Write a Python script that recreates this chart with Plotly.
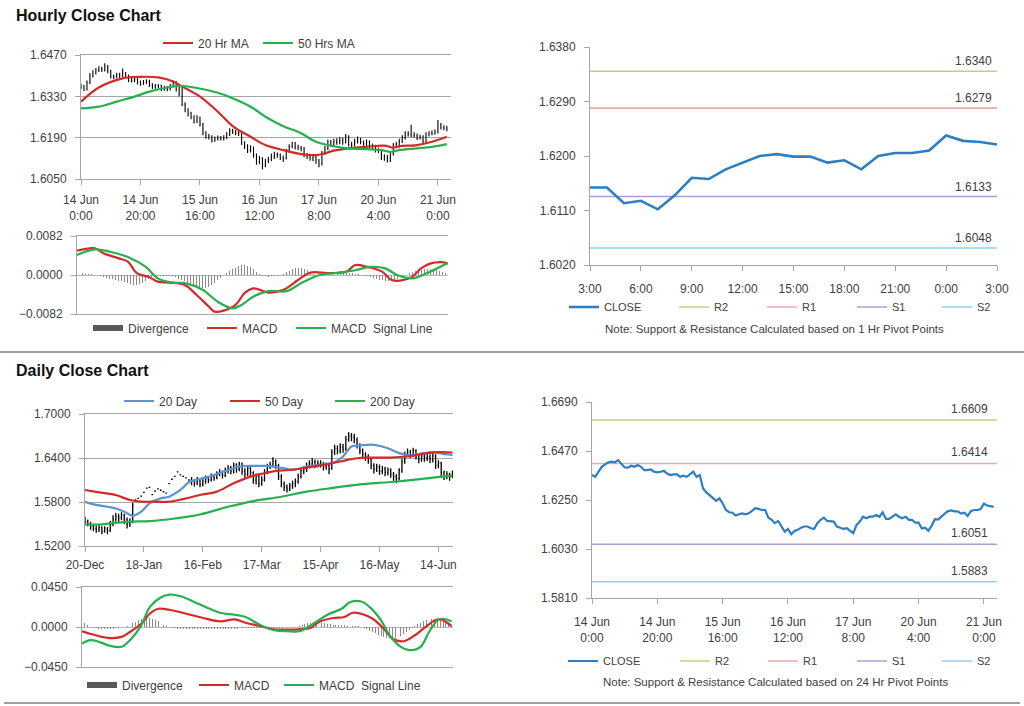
import plotly.graph_objects as go

W, H = 1024, 706
FONT = "Liberation Sans, Arial, sans-serif"
TXT = "#404040"
GRID = "#a6a6a6"

# ---------------- Hourly data (14 Jun 0:00 .. 21 Jun 3:00) ----------------
H_TICKS = [0, 20, 40, 60, 80, 100, 120]
H_TICKTEXT = ["14 Jun<br>0:00", "14 Jun<br>20:00", "15 Jun<br>16:00", "16 Jun<br>12:00",
              "17 Jun<br>8:00", "20 Jun<br>4:00", "21 Jun<br>0:00"]
H_OPEN0 = 1.6365
H_CLOSE = [1.6362, 1.6354, 1.6377, 1.6399, 1.6410, 1.6419, 1.6422, 1.6419, 1.6429, 1.6414,
           1.6396, 1.6395, 1.6404, 1.6399, 1.6407, 1.6399, 1.6384, 1.6384, 1.6387, 1.6377,
           1.6374, 1.6377, 1.6381, 1.6369, 1.6362, 1.6365, 1.6365, 1.6354, 1.6359, 1.6354,
           1.6365, 1.6377, 1.6354, 1.6362, 1.6302, 1.6284, 1.6272, 1.6260, 1.6246, 1.6257,
           1.6235, 1.6205, 1.6195, 1.6193, 1.6180, 1.6186, 1.6190, 1.6186, 1.6190, 1.6201,
           1.6213, 1.6210, 1.6205, 1.6205, 1.6171, 1.6161, 1.6146, 1.6156, 1.6131, 1.6108,
           1.6120, 1.6096, 1.6111, 1.6116, 1.6126, 1.6131, 1.6131, 1.6123, 1.6120, 1.6146,
           1.6161, 1.6171, 1.6156, 1.6156, 1.6153, 1.6131, 1.6126, 1.6120, 1.6123, 1.6111,
           1.6101, 1.6138, 1.6153, 1.6175, 1.6168, 1.6175, 1.6175, 1.6183, 1.6175, 1.6195,
           1.6165, 1.6165, 1.6175, 1.6186, 1.6175, 1.6168, 1.6175, 1.6161, 1.6161, 1.6148,
           1.6148, 1.6122, 1.6126, 1.6112, 1.6135, 1.6164, 1.6162, 1.6178, 1.6189, 1.6200,
           1.6203, 1.6199, 1.6199, 1.6189, 1.6193, 1.6178, 1.6200, 1.6205, 1.6205, 1.6209,
           1.6234, 1.6225, 1.6223, 1.6219]
H_HIGH = [1.6372, 1.6368, 1.6384, 1.6408, 1.6418, 1.6426, 1.6432, 1.6430, 1.6442, 1.6436,
          1.6420, 1.6404, 1.6410, 1.6410, 1.6424, 1.6412, 1.6404, 1.6392, 1.6395, 1.6392,
          1.6384, 1.6385, 1.6388, 1.6386, 1.6374, 1.6372, 1.6372, 1.6370, 1.6366, 1.6365,
          1.6372, 1.6384, 1.6382, 1.6372, 1.6366, 1.6310, 1.6290, 1.6278, 1.6266, 1.6266,
          1.6262, 1.6240, 1.6212, 1.6202, 1.6198, 1.6194, 1.6197, 1.6196, 1.6198, 1.6208,
          1.6222, 1.6220, 1.6216, 1.6214, 1.6210, 1.6178, 1.6168, 1.6164, 1.6160, 1.6136,
          1.6128, 1.6124, 1.6118, 1.6125, 1.6136, 1.6142, 1.6140, 1.6136, 1.6130, 1.6152,
          1.6168, 1.6176, 1.6175, 1.6166, 1.6162, 1.6158, 1.6138, 1.6132, 1.6130, 1.6128,
          1.6118, 1.6145, 1.6162, 1.6184, 1.6182, 1.6186, 1.6188, 1.6192, 1.6190, 1.6202,
          1.6198, 1.6176, 1.6186, 1.6194, 1.6190, 1.6180, 1.6184, 1.6180, 1.6170, 1.6166,
          1.6156, 1.6152, 1.6134, 1.6132, 1.6142, 1.6172, 1.6176, 1.6186, 1.6198, 1.6212,
          1.6212, 1.6234, 1.6208, 1.6204, 1.6200, 1.6198, 1.6208, 1.6212, 1.6214, 1.6218,
          1.6250, 1.6240, 1.6232, 1.6230]
H_LOW = [1.6355, 1.6348, 1.6350, 1.6372, 1.6394, 1.6404, 1.6412, 1.6412, 1.6414, 1.6408,
         1.6390, 1.6388, 1.6390, 1.6392, 1.6395, 1.6392, 1.6378, 1.6377, 1.6378, 1.6370,
         1.6366, 1.6368, 1.6372, 1.6362, 1.6355, 1.6356, 1.6358, 1.6348, 1.6349, 1.6347,
         1.6350, 1.6360, 1.6346, 1.6330, 1.6296, 1.6276, 1.6262, 1.6252, 1.6238, 1.6240,
         1.6228, 1.6198, 1.6186, 1.6184, 1.6174, 1.6176, 1.6180, 1.6180, 1.6180, 1.6185,
         1.6196, 1.6202, 1.6198, 1.6196, 1.6165, 1.6152, 1.6138, 1.6140, 1.6122, 1.6098,
         1.6100, 1.6082, 1.6090, 1.6104, 1.6110, 1.6118, 1.6122, 1.6114, 1.6108, 1.6116,
         1.6140, 1.6154, 1.6150, 1.6148, 1.6144, 1.6124, 1.6118, 1.6112, 1.6110, 1.6102,
         1.6090, 1.6096, 1.6132, 1.6148, 1.6160, 1.6162, 1.6166, 1.6168, 1.6166, 1.6170,
         1.6160, 1.6156, 1.6160, 1.6170, 1.6168, 1.6160, 1.6162, 1.6154, 1.6152, 1.6140,
         1.6138, 1.6114, 1.6112, 1.6106, 1.6108, 1.6130, 1.6154, 1.6156, 1.6172, 1.6184,
         1.6194, 1.6192, 1.6190, 1.6182, 1.6184, 1.6172, 1.6174, 1.6194, 1.6198, 1.6200,
         1.6204, 1.6218, 1.6215, 1.6212]

MA20_X = [0, 6, 14, 20, 26, 31, 34, 40, 46, 51, 57, 62, 68, 74, 79, 82, 85, 90, 96, 102, 105, 107, 113, 118, 123]
MA20_Y = [1.6312, 1.6360, 1.6391, 1.6396, 1.6394, 1.6380, 1.6363, 1.6329, 1.6278, 1.6229, 1.6193, 1.6165,
          1.6148, 1.6134, 1.6131, 1.6137, 1.6146, 1.6154, 1.6159, 1.6163, 1.6156, 1.6161, 1.6165, 1.6176, 1.6193]
MA50_X = [0, 6, 12, 18, 23, 29, 33, 38, 46, 51, 57, 62, 68, 74, 79, 85, 90, 96, 101, 104, 107, 113, 118, 123]
MA50_Y = [1.6289, 1.6295, 1.6312, 1.6329, 1.6346, 1.6360, 1.6365, 1.6360, 1.6342, 1.6323, 1.6295, 1.6261,
          1.6229, 1.6205, 1.6176, 1.6161, 1.6154, 1.6151, 1.6148, 1.6142, 1.6148, 1.6154, 1.6159, 1.6168]

H_DIV = [0.0005, 0.0004, 0.0004, 0.0003, 0.0002, 0.0002, 0.0001, 0.0000, -0.0002, -0.0004,
         -0.0006, -0.0008, -0.0009, -0.0011, -0.0012, -0.0013, -0.0015, -0.0017, -0.0019, -0.0020,
         -0.0021, -0.0019, -0.0016, -0.0012, -0.0008, -0.0004, -0.0002, -0.0002, -0.0003, -0.0003,
         -0.0003, -0.0002, -0.0003, -0.0005, -0.0008, -0.0011, -0.0013, -0.0016, -0.0019, -0.0021,
         -0.0024, -0.0026, -0.0027, -0.0028, -0.0026, -0.0022, -0.0017, -0.0011, -0.0006, -0.0001,
         0.0004, 0.0008, 0.0012, 0.0015, 0.0018, 0.0020, 0.0021, 0.0019, 0.0016, 0.0012,
         0.0007, 0.0002, -0.0002, -0.0003, -0.0004, -0.0003, -0.0003, -0.0002, 0.0000, 0.0003,
         0.0006, 0.0009, 0.0012, 0.0014, 0.0015, 0.0015, 0.0013, 0.0010, 0.0006, 0.0002,
         -0.0001, -0.0002, -0.0002, -0.0001, -0.0001, 0.0000, 0.0001, 0.0002, 0.0003, 0.0004,
         0.0005, 0.0005, 0.0004, 0.0003, 0.0002, 0.0000, -0.0002, -0.0003, -0.0005, -0.0007,
         -0.0009, -0.0010, -0.0011, -0.0012, -0.0012, -0.0011, -0.0010, -0.0008, -0.0005, -0.0002,
         0.0001, 0.0004, 0.0006, 0.0008, 0.0010, 0.0011, 0.0012, 0.0013, 0.0013, 0.0012,
         0.0010, 0.0008, 0.0006, 0.0004]
H_MACD_X = [0, 6, 9, 14, 17, 20, 24, 27, 31, 36, 40, 44, 46, 49, 53, 56, 59, 64, 69, 74, 78, 84, 90,
            93, 97, 102, 105, 108, 112, 115, 118, 122, 124]
H_MACD_Y = [0.0051, 0.0056, 0.0045, 0.0035, 0.0028, 0.0004, -0.0004, -0.0014, -0.0016, -0.0021, -0.0042,
            -0.0066, -0.0077, -0.0075, -0.0063, -0.0038, -0.0028, -0.0037, -0.0031, -0.0010, 0.0005,
            0.0004, 0.0007, 0.0021, 0.0017, 0.0007, -0.0010, -0.0012, -0.0004, 0.0014, 0.0024, 0.0027, 0.0024]
H_SIG_X = [0, 6, 11, 17, 23, 27, 32, 36, 42, 47, 52, 55, 59, 64, 70, 75, 81, 86, 93, 98, 103, 107, 112, 117, 124]
H_SIG_Y = [0.0042, 0.0054, 0.0049, 0.0038, 0.0017, -0.0007, -0.0016, -0.0017, -0.0031, -0.0056, -0.0070,
           -0.0063, -0.0045, -0.0034, -0.0034, -0.0017, 0.0000, 0.0004, 0.0010, 0.0017, 0.0014, 0.0000,
           -0.0007, 0.0004, 0.0026]

# ---------------- 1 Hr pivot panel ----------------
P1_TICKTEXT = ["3:00", "6:00", "9:00", "12:00", "15:00", "18:00", "21:00", "0:00", "3:00"]
P1_START = 99          # 20 Jun 3:00 in the hourly series
P1_LEVELS = {"R2": 1.6340, "R1": 1.6279, "S1": 1.6133, "S2": 1.6048}
P24_LEVELS = {"R2": 1.6609, "R1": 1.6414, "S1": 1.6051, "S2": 1.5883}
LEVEL_COLORS = {"R2": "#bcd47e", "R1": "#f0a7a7", "S1": "#b39bd0", "S2": "#8fd3e8"}

# ---------------- Daily data (20-Dec .. 21-Jun) ----------------
D_TICKS = [0, 21, 42, 63, 84, 105, 126]
D_TICKTEXT = ["20-Dec", "18-Jan", "16-Feb", "17-Mar", "15-Apr", "16-May", "14-Jun"]
D_OPEN = [1.5560, 1.5530, 1.5500, 1.5470, 1.5440, 1.5420, 1.5450, 1.5400, 1.5430, 1.5410,
          1.5500, 1.5560, 1.5600, 1.5580, 1.5620, 1.5560, 1.5500, 1.5520,
          1.5830, 1.5850, 1.5880, 1.5930, 1.5990, 1.6000, 1.5900, 1.5950, 1.5980, 1.5960,
          1.5940, 1.5920, 1.6050, 1.6110, 1.6150, 1.6210, 1.6170, 1.6150, 1.6130, 1.6100,
          1.6100, 1.6080, 1.6060, 1.6100, 1.6040, 1.6080, 1.6120, 1.6100, 1.6150, 1.6130, 1.6180, 1.6200,
          1.6160, 1.6230, 1.6260, 1.6220, 1.6300, 1.6250, 1.6320, 1.6220, 1.6180, 1.6260,
          1.6200, 1.6100, 1.6150, 1.6050, 1.6100, 1.6200, 1.6280, 1.6300, 1.6360, 1.6300,
          1.6150, 1.6050, 1.6000, 1.5980, 1.6020, 1.6050, 1.6080, 1.6150, 1.6220, 1.6250,
          1.6300, 1.6320, 1.6350, 1.6300, 1.6330, 1.6320, 1.6280, 1.6300, 1.6250, 1.6480,
          1.6530, 1.6500, 1.6550, 1.6520, 1.6650, 1.6700, 1.6680, 1.6650, 1.6580, 1.6500,
          1.6450, 1.6420, 1.6380, 1.6300, 1.6250, 1.6280, 1.6220, 1.6250, 1.6200, 1.6230,
          1.6180, 1.6150, 1.6120, 1.6230, 1.6350, 1.6450, 1.6480, 1.6440, 1.6500, 1.6420,
          1.6380, 1.6430, 1.6400, 1.6420, 1.6380, 1.6430, 1.6300, 1.6330, 1.6200, 1.6150, 1.6180, 1.6140]
D_HIGH = [1.5600, 1.5560, 1.5530, 1.5500, 1.5480, 1.5490, 1.5470, 1.5470, 1.5460, 1.5540,
          1.5620, 1.5650, 1.5640, 1.5660, 1.5640, 1.5590, 1.5580, 1.5790,
          1.5830, 1.5850, 1.5880, 1.5930, 1.5990, 1.6000, 1.5900, 1.5950, 1.5980, 1.5960,
          1.5940, 1.5920, 1.6050, 1.6110, 1.6150, 1.6210, 1.6170, 1.6150, 1.6130, 1.6100,
          1.6140, 1.6110, 1.6140, 1.6120, 1.6120, 1.6160, 1.6150, 1.6190, 1.6180, 1.6220, 1.6250, 1.6230,
          1.6270, 1.6300, 1.6290, 1.6340, 1.6330, 1.6350, 1.6340, 1.6260, 1.6290, 1.6280,
          1.6220, 1.6190, 1.6170, 1.6150, 1.6250, 1.6320, 1.6350, 1.6410, 1.6380, 1.6320,
          1.6180, 1.6080, 1.6040, 1.6060, 1.6090, 1.6120, 1.6190, 1.6260, 1.6290, 1.6340,
          1.6370, 1.6400, 1.6380, 1.6370, 1.6370, 1.6350, 1.6340, 1.6330, 1.6520, 1.6580,
          1.6570, 1.6600, 1.6590, 1.6700, 1.6750, 1.6740, 1.6730, 1.6680, 1.6600, 1.6530,
          1.6480, 1.6450, 1.6400, 1.6330, 1.6320, 1.6310, 1.6290, 1.6280, 1.6270, 1.6260,
          1.6210, 1.6180, 1.6260, 1.6390, 1.6490, 1.6530, 1.6510, 1.6540, 1.6520, 1.6450,
          1.6470, 1.6460, 1.6460, 1.6450, 1.6470, 1.6450, 1.6370, 1.6350, 1.6230, 1.6220, 1.6200, 1.6230]
D_LOW = [1.5490, 1.5470, 1.5420, 1.5400, 1.5380, 1.5390, 1.5360, 1.5380, 1.5360, 1.5390,
         1.5470, 1.5530, 1.5520, 1.5550, 1.5500, 1.5440, 1.5460, 1.5510,
         1.5830, 1.5850, 1.5880, 1.5930, 1.5990, 1.6000, 1.5900, 1.5950, 1.5980, 1.5960,
         1.5940, 1.5920, 1.6050, 1.6110, 1.6150, 1.6210, 1.6170, 1.6150, 1.6130, 1.6100,
         1.6030, 1.6010, 1.6030, 1.6000, 1.6010, 1.6050, 1.6060, 1.6080, 1.6090, 1.6110, 1.6150, 1.6120,
         1.6140, 1.6190, 1.6180, 1.6190, 1.6200, 1.6220, 1.6170, 1.6120, 1.6150, 1.6140,
         1.6050, 1.6040, 1.6000, 1.6020, 1.6080, 1.6180, 1.6250, 1.6280, 1.6250, 1.6100,
         1.6000, 1.5950, 1.5930, 1.5950, 1.5980, 1.6000, 1.6050, 1.6120, 1.6180, 1.6210,
         1.6260, 1.6290, 1.6260, 1.6270, 1.6270, 1.6230, 1.6240, 1.6180, 1.6240, 1.6440,
         1.6450, 1.6460, 1.6470, 1.6500, 1.6620, 1.6630, 1.6600, 1.6530, 1.6450, 1.6400,
         1.6360, 1.6320, 1.6250, 1.6190, 1.6210, 1.6170, 1.6180, 1.6150, 1.6160, 1.6130,
         1.6090, 1.6060, 1.6100, 1.6200, 1.6320, 1.6420, 1.6400, 1.6410, 1.6380, 1.6330,
         1.6350, 1.6350, 1.6360, 1.6330, 1.6340, 1.6250, 1.6260, 1.6150, 1.6100, 1.6110, 1.6090, 1.6130]
D_CLOSE = [1.5530, 1.5500, 1.5470, 1.5440, 1.5420, 1.5450, 1.5400, 1.5430, 1.5410, 1.5500,
           1.5560, 1.5600, 1.5580, 1.5620, 1.5560, 1.5500, 1.5520, 1.5760, 1.5830, 1.5850,
           1.5880, 1.5930, 1.5990, 1.6000, 1.5900, 1.5950, 1.5980, 1.5960, 1.5940, 1.5920,
           1.6050, 1.6110, 1.6150, 1.6210, 1.6170, 1.6150, 1.6130, 1.6100, 1.6080, 1.6060,
           1.6100, 1.6040, 1.6080, 1.6120, 1.6100, 1.6150, 1.6130, 1.6180, 1.6200, 1.6160,
           1.6230, 1.6260, 1.6220, 1.6300, 1.6250, 1.6320, 1.6220, 1.6180, 1.6260, 1.6200,
           1.6100, 1.6150, 1.6050, 1.6100, 1.6200, 1.6280, 1.6300, 1.6360, 1.6300, 1.6150,
           1.6050, 1.6000, 1.5980, 1.6020, 1.6050, 1.6080, 1.6150, 1.6220, 1.6250, 1.6300,
           1.6320, 1.6350, 1.6300, 1.6330, 1.6320, 1.6280, 1.6300, 1.6250, 1.6480, 1.6530,
           1.6500, 1.6550, 1.6520, 1.6650, 1.6700, 1.6680, 1.6650, 1.6580, 1.6500, 1.6450,
           1.6420, 1.6380, 1.6300, 1.6250, 1.6280, 1.6220, 1.6250, 1.6200, 1.6230, 1.6180,
           1.6150, 1.6120, 1.6230, 1.6350, 1.6450, 1.6480, 1.6440, 1.6500, 1.6420, 1.6380,
           1.6430, 1.6400, 1.6420, 1.6380, 1.6430, 1.6300, 1.6330, 1.6200, 1.6150, 1.6180,
           1.6140, 1.6200]

MA20D_X = [0, 3, 8, 11, 14, 17, 20, 23, 27, 30, 34, 37, 41, 46, 51, 55, 60, 65, 67, 71, 74, 79, 84, 89,
           92, 95, 98, 103, 108, 112, 116, 121, 124, 128, 131]
MA20D_Y = [1.5804, 1.5767, 1.5735, 1.5712, 1.5667, 1.5612, 1.5667, 1.5781, 1.5849, 1.5872, 1.5964, 1.6069,
           1.6114, 1.6169, 1.6237, 1.6283, 1.6292, 1.6292, 1.6283, 1.6260, 1.6237, 1.6283, 1.6306, 1.6342,
           1.6420, 1.6557, 1.6571, 1.6580, 1.6534, 1.6466, 1.6434, 1.6466, 1.6479, 1.6452, 1.6443]
MA50D_X = [0, 5, 11, 16, 20, 24, 30, 35, 41, 47, 53, 59, 64, 68, 73, 79, 85, 91, 97, 102, 109, 115, 122, 127, 131]
MA50D_Y = [1.5964, 1.5932, 1.5895, 1.5827, 1.5804, 1.5804, 1.5804, 1.5840, 1.5895, 1.5941, 1.6055, 1.6146,
           1.6192, 1.6224, 1.6237, 1.6269, 1.6306, 1.6352, 1.6397, 1.6406, 1.6406, 1.6420, 1.6466, 1.6479, 1.6475]
MA200D_X = [0, 5, 15, 23, 32, 41, 51, 60, 70, 79, 89, 98, 108, 117, 124, 131]
MA200D_Y = [1.5493, 1.5493, 1.5530, 1.5539, 1.5575, 1.5630, 1.5735, 1.5813, 1.5872, 1.5941, 1.5995, 1.6041,
            1.6069, 1.6101, 1.6132, 1.6160]

D_DIV = [0.0060, 0.0040, 0.0020, 0.0000, -0.0010, -0.0015, -0.0020, -0.0022, -0.0024, -0.0025,
         -0.0022, -0.0020, -0.0015, -0.0010, -0.0005, 0.0005, 0.0015, 0.0030, 0.0045, 0.0060,
         0.0075, 0.0088, 0.0096, 0.0100, 0.0098, 0.0090, 0.0078, 0.0062, 0.0045, 0.0028,
         0.0012, 0.0000, -0.0010, -0.0016, -0.0020, -0.0022, -0.0024, -0.0025, -0.0026, -0.0026,
         -0.0026, -0.0025, -0.0025, -0.0024, -0.0024, -0.0023, -0.0022, -0.0022, -0.0021, -0.0020,
         -0.0020, -0.0020, -0.0019, -0.0018, -0.0018, -0.0017, -0.0017, -0.0016, -0.0016, -0.0015,
         -0.0015, -0.0014, -0.0013, -0.0012, -0.0011, -0.0010, -0.0009, -0.0008, -0.0008, -0.0007,
         -0.0006, -0.0006, -0.0005, -0.0004, -0.0003, -0.0002, 0.0000, 0.0010, 0.0020, 0.0030,
         0.0040, 0.0050, 0.0055, 0.0056, 0.0052, 0.0046, 0.0040, 0.0034, 0.0030, 0.0026,
         0.0024, 0.0022, 0.0020, 0.0018, 0.0016, 0.0014, 0.0012, 0.0010, 0.0006, 0.0000,
         -0.0010, -0.0025, -0.0040, -0.0055, -0.0070, -0.0085, -0.0100, -0.0112, -0.0122, -0.0128,
         -0.0130, -0.0126, -0.0115, -0.0100, -0.0080, -0.0058, -0.0035, -0.0012, 0.0010, 0.0030,
         0.0048, 0.0062, 0.0074, 0.0083, 0.0088, 0.0090, 0.0088, 0.0080, 0.0066, 0.0048,
         0.0030, 0.0015]
D_MACD_X = [0, 4, 9, 14, 17, 21, 24, 27, 31, 37, 43, 49, 54, 58, 63, 68, 73, 77, 81, 84, 89, 93, 96, 100,
            103, 107, 110, 114, 118, 121, 125, 127, 129, 131]
D_MACD_Y = [-0.0048, -0.0085, -0.0122, -0.0111, -0.0056, 0.0037, 0.0149, 0.0205, 0.0194, 0.0149, 0.0101,
            0.0063, 0.0086, 0.0048, 0.0011, -0.0026, -0.0030, -0.0026, -0.0011, 0.0056, 0.0101, 0.0112,
            0.0160, 0.0138, 0.0093, -0.0019, -0.0130, -0.0160, -0.0093, -0.0019, 0.0074, 0.0086, 0.0056, 0.0011]
D_SIG_X = [0, 3, 6, 10, 14, 17, 21, 24, 28, 31, 35, 40, 44, 49, 54, 58, 63, 68, 73, 77, 82, 87, 92, 95,
           99, 102, 106, 109, 113, 116, 120, 123, 126, 128, 131]
D_SIG_Y = [-0.0185, -0.0148, -0.0167, -0.0212, -0.0223, -0.0148, 0.0019, 0.0223, 0.0335, 0.0365, 0.0346,
           0.0279, 0.0223, 0.0160, 0.0138, 0.0112, 0.0026, -0.0037, -0.0048, -0.0048, 0.0037, 0.0138,
           0.0205, 0.0279, 0.0287, 0.0223, 0.0074, -0.0093, -0.0223, -0.0260, -0.0223, -0.0056, 0.0074,
           0.0093, 0.0063]

RED = "#d42a2a"
GREEN = "#27b04f"
BLUE20 = "#5d93d1"
CLOSE_BLUE = "#2b7fc2"
DIV_GRAY = "#8a8a8a"


def xdom(a, b):
    return [a / W, b / W]


def ydom(top, bottom):
    return [1 - bottom / H, 1 - top / H]


def ppx(x):
    return x / W


def ppy(y):
    return 1 - y / H


fig = go.Figure()

# ---- Panel 1: hourly bars ----
hx = list(range(len(H_CLOSE)))
h_open = [H_OPEN0] + H_CLOSE[:-1]
fig.add_trace(go.Ohlc(x=hx, open=h_open, high=H_HIGH, low=H_LOW, close=H_CLOSE,
                      xaxis="x", yaxis="y", tickwidth=0.22,
                      increasing=dict(line=dict(color="black", width=1.1)),
                      decreasing=dict(line=dict(color="black", width=1.1)),
                      showlegend=False, hoverinfo="skip"))
fig.add_trace(go.Scatter(x=MA20_X, y=MA20_Y, mode="lines", name="20 Hr MA", xaxis="x", yaxis="y",
                         line=dict(color=RED, width=2.2, shape="spline"), legend="legend", legendwidth=55))
fig.add_trace(go.Scatter(x=MA50_X, y=MA50_Y, mode="lines", name="50 Hrs MA", xaxis="x", yaxis="y",
                         line=dict(color=GREEN, width=2.2, shape="spline"), legend="legend"))

# ---- Panel 2: hourly MACD ----
fig.add_trace(go.Bar(x=hx, y=H_DIV, xaxis="x2", yaxis="y2", marker=dict(color=DIV_GRAY, line=dict(width=0)),
                     width=0.33, showlegend=False, hoverinfo="skip"))
fig.add_trace(go.Scatter(x=[None], y=[None], mode="lines", name="Divergence", xaxis="x2", yaxis="y2",
                         line=dict(color="#595959", width=6), legend="legend2", legendwidth=69))
fig.add_trace(go.Scatter(x=H_MACD_X, y=H_MACD_Y, mode="lines", name="MACD", xaxis="x2", yaxis="y2",
                         line=dict(color=RED, width=2.2, shape="spline"), legend="legend2", legendwidth=44))
fig.add_trace(go.Scatter(x=H_SIG_X, y=H_SIG_Y, mode="lines", name="MACD  Signal Line", xaxis="x2", yaxis="y2",
                         line=dict(color=GREEN, width=2.2, shape="spline"), legend="legend2"))

# ---- Panel 3: 1 Hr pivot ----
p1_close = H_CLOSE[P1_START:P1_START + 25]
p1x = list(range(len(p1_close)))
lw3 = {"R2": 43, "R1": 45, "S1": 40, "S2": 40}
for rank, (k, v) in enumerate(P1_LEVELS.items()):
    fig.add_trace(go.Scatter(x=[0, 24], y=[v, v], mode="lines", name=k, xaxis="x3", yaxis="y3",
                             line=dict(color=LEVEL_COLORS[k], width=1.6), legend="legend3",
                             legendrank=rank + 2, legendwidth=lw3[k], hoverinfo="skip"))
fig.add_trace(go.Scatter(x=p1x, y=p1_close, mode="lines", name="CLOSE", xaxis="x3", yaxis="y3",
                         line=dict(color=CLOSE_BLUE, width=2.6), legend="legend3", legendrank=1,
                         legendwidth=65))

# ---- Panel 4: daily bars ----
dx = list(range(len(D_CLOSE)))
fig.add_trace(go.Ohlc(x=dx, open=D_OPEN, high=D_HIGH, low=D_LOW, close=D_CLOSE,
                      xaxis="x4", yaxis="y4", tickwidth=0.3,
                      increasing=dict(line=dict(color="black", width=1.3)),
                      decreasing=dict(line=dict(color="black", width=1.3)),
                      showlegend=False, hoverinfo="skip"))
fig.add_trace(go.Scatter(x=MA20D_X, y=MA20D_Y, mode="lines", name="20 Day", xaxis="x4", yaxis="y4",
                         line=dict(color=BLUE20, width=2.2, shape="spline"), legend="legend4", legendwidth=61))
fig.add_trace(go.Scatter(x=MA50D_X, y=MA50D_Y, mode="lines", name="50 Day", xaxis="x4", yaxis="y4",
                         line=dict(color=RED, width=2.2, shape="spline"), legend="legend4", legendwidth=60))
fig.add_trace(go.Scatter(x=MA200D_X, y=MA200D_Y, mode="lines", name="200 Day", xaxis="x4", yaxis="y4",
                         line=dict(color=GREEN, width=2.2, shape="spline"), legend="legend4"))

# ---- Panel 5: daily MACD ----
fig.add_trace(go.Bar(x=dx, y=D_DIV, xaxis="x5", yaxis="y5", marker=dict(color=DIV_GRAY, line=dict(width=0)),
                     width=0.33, showlegend=False, hoverinfo="skip"))
fig.add_trace(go.Scatter(x=[None], y=[None], mode="lines", name="Divergence", xaxis="x5", yaxis="y5",
                         line=dict(color="#595959", width=6), legend="legend5", legendwidth=67))
fig.add_trace(go.Scatter(x=D_MACD_X, y=D_MACD_Y, mode="lines", name="MACD", xaxis="x5", yaxis="y5",
                         line=dict(color=RED, width=2.2, shape="spline"), legend="legend5", legendwidth=40))
fig.add_trace(go.Scatter(x=D_SIG_X, y=D_SIG_Y, mode="lines", name="MACD  Signal Line", xaxis="x5", yaxis="y5",
                         line=dict(color=GREEN, width=2.2, shape="spline"), legend="legend5"))

# ---- Panel 6: 24 Hr pivot ----
lw6 = {"R2": 43, "R1": 44, "S1": 40, "S2": 40}
for rank, (k, v) in enumerate(P24_LEVELS.items()):
    fig.add_trace(go.Scatter(x=[0, 124], y=[v, v], mode="lines", name=k, xaxis="x6", yaxis="y6",
                             line=dict(color=LEVEL_COLORS[k], width=1.6), legend="legend6",
                             legendrank=rank + 2, legendwidth=lw6[k], hoverinfo="skip"))
fig.add_trace(go.Scatter(x=hx, y=H_CLOSE, mode="lines", name="CLOSE", xaxis="x6", yaxis="y6",
                         line=dict(color=CLOSE_BLUE, width=2.2), legend="legend6", legendrank=1,
                         legendwidth=67))

tickfont = dict(family=FONT, size=12, color=TXT)
base_x = dict(showline=True, linecolor=GRID, linewidth=1, ticks="outside", ticklen=5, tickcolor=GRID,
              tickfont=tickfont, showgrid=False, zeroline=False, fixedrange=True)
base_y = dict(showline=True, linecolor=GRID, linewidth=1, ticks="outside", ticklen=5, tickcolor=GRID,
              tickfont=tickfont, tickformat=".4f", gridcolor=GRID, gridwidth=1, zeroline=False,
              fixedrange=True, ticklabelstandoff=6)

layout = dict(
    width=W, height=H, margin=dict(l=0, r=0, t=0, b=0), autosize=False,
    paper_bgcolor="white", plot_bgcolor="white", template="none", hovermode=False,
    font=dict(family=FONT, size=12, color=TXT), bargap=0,
    xaxis=dict(base_x, domain=xdom(81, 451), anchor="y", range=[0, 124.4], tickvals=H_TICKS,
               ticktext=H_TICKTEXT, mirror=True, rangeslider=dict(visible=False), ticklabelstandoff=5),
    yaxis=dict(base_y, domain=ydom(55, 179), anchor="x", range=[1.6050, 1.6470],
               tickvals=[1.6050, 1.6190, 1.6330, 1.6470], showgrid=True),
    xaxis2=dict(base_x, domain=xdom(77, 448), anchor="y2", range=[0, 124], showticklabels=False,
                ticks="", mirror=True),
    yaxis2=dict(base_y, domain=ydom(236, 314), anchor="x2", range=[-0.0082, 0.0082],
                tickvals=[-0.0082, 0.0, 0.0082], showgrid=False, zeroline=True, zerolinecolor="#b8b8b8",
                zerolinewidth=1),
    xaxis3=dict(base_x, domain=xdom(590, 997), anchor="y3", range=[0, 24],
                tickvals=list(range(0, 25, 3)), ticktext=P1_TICKTEXT, ticklabelstandoff=8),
    yaxis3=dict(base_y, domain=ydom(47, 265), anchor="x3", range=[1.6020, 1.6380], dtick=0.009,
                tick0=1.6020, showgrid=False),
    xaxis4=dict(base_x, domain=xdom(85, 453), anchor="y4", range=[0, 131.2], tickvals=D_TICKS,
                ticktext=D_TICKTEXT, mirror=True, rangeslider=dict(visible=False), ticklabelstandoff=3),
    yaxis4=dict(base_y, domain=ydom(414, 546), anchor="x4", range=[1.52, 1.70], dtick=0.06, tick0=1.52,
                showgrid=True),
    xaxis5=dict(base_x, domain=xdom(82, 453), anchor="y5", range=[0, 131.5], showticklabels=False,
                ticks="", mirror=True),
    yaxis5=dict(base_y, domain=ydom(587, 667), anchor="x5", range=[-0.045, 0.045],
                tickvals=[-0.045, 0.0, 0.045], showgrid=False, zeroline=True, zerolinecolor="#b8b8b8",
                zerolinewidth=1),
    xaxis6=dict(base_x, domain=xdom(592, 997), anchor="y6", range=[0, 124], tickvals=H_TICKS,
                ticktext=H_TICKTEXT, ticklabelstandoff=8),
    yaxis6=dict(base_y, domain=ydom(402, 598), anchor="x6", range=[1.5810, 1.6690], dtick=0.022,
                tick0=1.5810, showgrid=False),
)


def leg(x_line_start, y_center, size=12):
    return dict(orientation="h", x=ppx(x_line_start - 5), y=ppy(y_center), xanchor="left",
                yanchor="middle", bgcolor="rgba(0,0,0,0)", borderwidth=0, itemwidth=30,
                font=dict(family=FONT, size=size, color=TXT), itemclick=False, itemdoubleclick=False)


layout["legend"] = leg(163, 43)
layout["legend2"] = leg(93, 328)
layout["legend3"] = leg(569, 307, 11)
layout["legend4"] = leg(124, 401)
layout["legend5"] = leg(87, 685)
layout["legend6"] = leg(568, 661, 11)

annotations = [
    dict(text="<b>Hourly Close Chart</b>", x=ppx(14), y=ppy(16), xref="paper", yref="paper",
         xanchor="left", yanchor="middle", showarrow=False, font=dict(family=FONT, size=16, color="#111111")),
    dict(text="<b>Daily Close Chart</b>", x=ppx(14), y=ppy(370), xref="paper", yref="paper",
         xanchor="left", yanchor="middle", showarrow=False, font=dict(family=FONT, size=16, color="#111111")),
    dict(text="Note: Support & Resistance Calculated based on 1 Hr Pivot Points", x=ppx(774), y=ppy(329),
         xref="paper", yref="paper", xanchor="center", yanchor="middle", showarrow=False,
         font=dict(family=FONT, size=11.5, color=TXT)),
    dict(text="Note: Support & Resistance Calculated based on 24 Hr Pivot Points", x=ppx(775), y=ppy(682),
         xref="paper", yref="paper", xanchor="center", yanchor="middle", showarrow=False,
         font=dict(family=FONT, size=11.5, color=TXT)),
]
for k, v in P1_LEVELS.items():
    annotations.append(dict(text=f"{v:.4f}", x=24, y=v, xref="x3", yref="y3", xanchor="right",
                            yanchor="bottom", xshift=-3, yshift=1, showarrow=False,
                            font=dict(family=FONT, size=12, color=TXT)))
for k, v in P24_LEVELS.items():
    annotations.append(dict(text=f"{v:.4f}", x=124, y=v, xref="x6", yref="y6", xanchor="right",
                            yanchor="bottom", xshift=-7, yshift=2, showarrow=False,
                            font=dict(family=FONT, size=12, color=TXT)))
layout["annotations"] = annotations

layout["shapes"] = [
    dict(type="line", xref="paper", yref="paper", x0=0, x1=1, y0=ppy(352), y1=ppy(352),
         line=dict(color="#808080", width=1.5)),
    dict(type="line", xref="paper", yref="paper", x0=ppx(4), x1=ppx(1020), y0=ppy(703), y1=ppy(703),
         line=dict(color="#808080", width=1.5)),
]

fig.update_layout(layout)

fig.write_html("out.html", config={"staticPlot": True},
               post_script="document.body.style.margin='0';document.body.style.overflow='hidden';")
